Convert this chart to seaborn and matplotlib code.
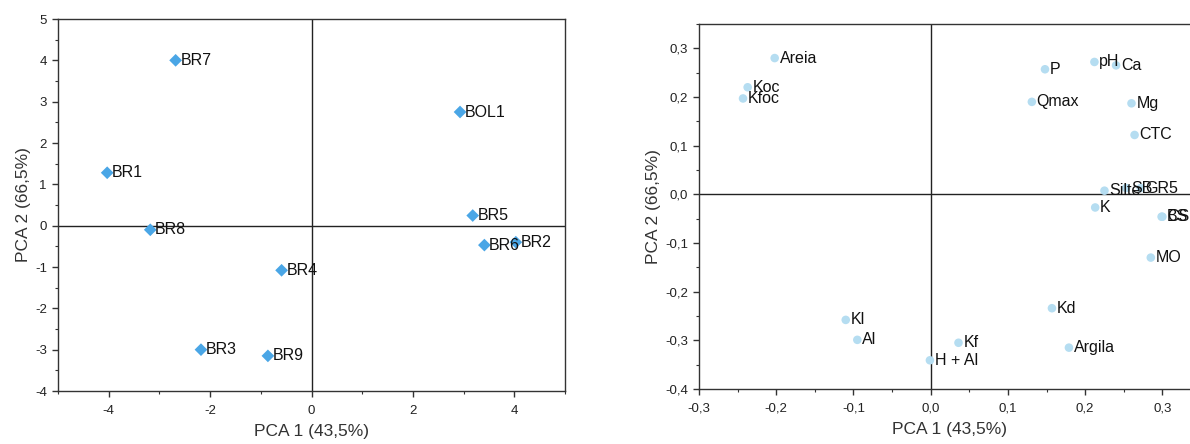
import matplotlib
matplotlib.use("Agg")
import matplotlib.pyplot as plt
import seaborn as sns
import pandas as pd
from matplotlib.ticker import MultipleLocator, FuncFormatter

# ---- data ----
sample_names = ["BR7", "BR1", "BR8", "BOL1", "BR5", "BR6", "BR2", "BR4", "BR3", "BR9"]
sample_pc1 = [-2.68, -4.03, -3.18, 2.93, 3.18, 3.41, 4.03, -0.59, -2.18, -0.86]
sample_pc2 = [4.00, 1.28, -0.10, 2.75, 0.245, -0.47, -0.40, -1.08, -3.00, -3.15]

var_names = ["Areia", "Koc", "Kfoc", "P", "pH", "Ca", "Qmax", "Mg", "CTC", "Silte",
             "SB", "GR5", "K", "BS", "CS", "MO", "Kd", "Argila", "Kl", "Al", "Kf", "H + Al"]
var_pc1 = [-0.202, -0.237, -0.243, 0.148, 0.212, 0.240, 0.131, 0.260, 0.264, 0.225,
           0.253, 0.272, 0.213, 0.299, 0.300, 0.285, 0.157, 0.179, -0.110, -0.095, 0.036, -0.001]
var_pc2 = [0.280, 0.220, 0.197, 0.257, 0.272, 0.265, 0.190, 0.187, 0.122, 0.0075,
           0.013, 0.013, -0.027, -0.046, -0.046, -0.130, -0.234, -0.315, -0.258, -0.299, -0.305, -0.341]

x_label = "PCA 1 (43,5%)"
y_label = "PCA 2 (66,5%)"

sns.set_theme(style="ticks")
plt.rcParams['font.family'] = ['Liberation Sans', 'DejaVu Sans']
plt.rcParams['axes.unicode_minus'] = False

W, H = 1190, 444
fig = plt.figure(figsize=(W / 100, H / 100), dpi=100)

def px_axes(l, t, r, b):
    return fig.add_axes([l / W, 1 - b / H, (r - l) / W, (b - t) / H])

ax1 = px_axes(58, 19, 565, 391)
ax2 = px_axes(699, 24, 1201, 389)

df1 = pd.DataFrame({"name": sample_names, "x": sample_pc1, "y": sample_pc2})
df2 = pd.DataFrame({"name": var_names, "x": var_pc1, "y": var_pc2})

sns.scatterplot(data=df1, x="x", y="y", ax=ax1, marker="D", s=42,
                color="#4aa6e6", edgecolor="none", zorder=3)
sns.scatterplot(data=df2, x="x", y="y", ax=ax2, marker="o", s=38,
                color="#b5ddf1", edgecolor="none", zorder=3)

for n, x, y in zip(sample_names, sample_pc1, sample_pc2):
    ax1.annotate(n, (x, y), xytext=(3.5, 0), textcoords="offset points",
                 va="center", ha="left", fontsize=11.5, color="#111111", zorder=4)
for n, x, y in zip(var_names, var_pc1, var_pc2):
    ax2.annotate(n, (x, y), xytext=(3.5, 0), textcoords="offset points",
                 va="center", ha="left", fontsize=11.5, color="#111111", zorder=4)

comma = FuncFormatter(lambda v, p: ("%.1f" % v).replace(".", ",").replace("-0,0", "0,0"))

for ax in (ax1, ax2):
    ax.axhline(0, color="#222222", lw=1.0, zorder=1)
    ax.axvline(0, color="#222222", lw=1.0, zorder=1)
    for s in ax.spines.values():
        s.set_visible(True)
        s.set_color("#333333")
        s.set_linewidth(1.0)
    ax.tick_params(which="major", direction="out", length=4, width=1, labelsize=9.5,
                   colors="#333333", pad=4)
    ax.tick_params(axis="x", which="major", pad=6)
    ax.tick_params(which="minor", direction="out", length=2.5, width=0.8, colors="#333333")
    ax.set_xlabel(x_label, fontsize=12.5, color="#333333", labelpad=5)
    ax.set_ylabel(y_label, fontsize=12.5, color="#333333", labelpad=3)
    ax.tick_params(labelcolor="#222222")

ax1.set_xlim(-5, 5)
ax1.set_ylim(-4, 5)
ax1.xaxis.set_major_locator(MultipleLocator(2))
ax1.xaxis.set_minor_locator(MultipleLocator(1))
ax1.yaxis.set_major_locator(MultipleLocator(1))
ax1.yaxis.set_minor_locator(MultipleLocator(0.5))

ax2.set_xlim(-0.3, 0.35)
ax2.set_ylim(-0.4, 0.35)
ax2.xaxis.set_major_locator(MultipleLocator(0.1))
ax2.xaxis.set_minor_locator(MultipleLocator(0.05))
ax2.yaxis.set_major_locator(MultipleLocator(0.1))
ax2.yaxis.set_minor_locator(MultipleLocator(0.05))
ax2.xaxis.set_major_formatter(comma)
ax2.yaxis.set_major_formatter(comma)

fig.savefig("out.png", dpi=100, facecolor="white")
